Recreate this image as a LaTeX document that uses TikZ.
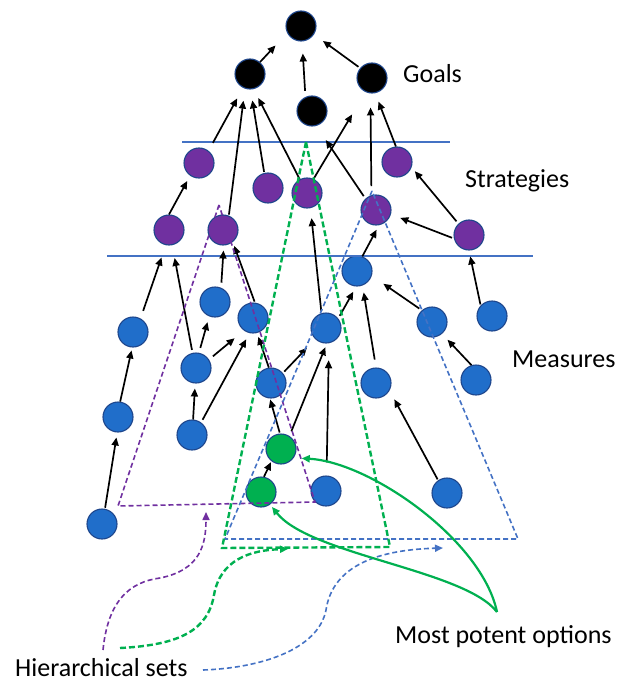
\documentclass[tikz,border=0pt]{standalone}
\usepackage{fontspec}
\setmainfont{Carlito}
\usetikzlibrary{arrows.meta}

\definecolor{nodeblue}{RGB}{32,110,202}
\definecolor{rimblue}{RGB}{30,70,140}
\definecolor{stratpurple}{RGB}{112,48,160}
\definecolor{optgreen}{RGB}{0,176,80}
\definecolor{lineblue}{RGB}{68,114,196}

\tikzset{
  dot/.style={circle, minimum size=30pt, inner sep=0pt, draw=rimblue, line width=1.1pt},
  goal/.style={dot, fill=black},
  strat/.style={dot, fill=stratpurple},
  meas/.style={dot, fill=nodeblue},
  opt/.style={dot, fill=optgreen},
  link/.style={line width=1.7pt, -{Triangle[length=8pt,width=7pt]}},
  lbl/.style={inner sep=0pt, anchor=base west, font=\fontsize{26}{30}\selectfont},
  tier/.style={lineblue, line width=1.6pt},
  purpleset/.style={stratpurple, line width=1.6pt, dash pattern=on 5pt off 3pt},
  greenset/.style={optgreen, line width=2.4pt, dash pattern=on 6pt off 3pt},
  blueset/.style={lineblue, line width=1.6pt, dash pattern=on 5pt off 3pt},
  settip/.style={-{Triangle[length=8pt,width=7pt]}},
  potent/.style={optgreen, line width=2.2pt, -{Triangle[length=8pt,width=7pt]}}
}

\begin{document}
\begin{tikzpicture}[x=1pt,y=-1pt]
\useasboundingbox (0,0) rectangle (619,682);

% goals
\node[goal] (t)  at (301,26) {};
\node[goal] (gl) at (250,74) {};
\node[goal] (gm) at (312,111) {};
\node[goal] (gr) at (372,78) {};

% strategies
\node[strat] (s1) at (199,163) {};
\node[strat] (s2) at (268,188) {};
\node[strat] (s3) at (307,193) {};
\node[strat] (s4) at (397,162) {};
\node[strat] (s5) at (376,210) {};
\node[strat] (s6) at (169,230) {};
\node[strat] (s7) at (223,230) {};
\node[strat] (s8) at (469,235) {};

% measures
\node[meas] (m1)  at (357,271) {};
\node[meas] (m2)  at (215,302) {};
\node[meas] (m3)  at (253,318) {};
\node[meas] (m4)  at (326,328) {};
\node[meas] (m5)  at (432,322) {};
\node[meas] (m6)  at (492,316) {};
\node[meas] (m7)  at (133,332) {};
\node[meas] (m8)  at (196,368) {};
\node[meas] (m9)  at (271,383) {};
\node[meas] (m10) at (376,383) {};
\node[meas] (m11) at (476,380) {};
\node[meas] (m12) at (118,417) {};
\node[meas] (m13) at (192,435) {};
\node[meas] (m14) at (326,491) {};
\node[meas] (m15) at (447,493) {};
\node[meas] (m16) at (102,524) {};

% most potent options
\node[opt] (g1) at (281,449) {};
\node[opt] (g2) at (261,492) {};

% level labels
\node[lbl] (goalslbl)  at (403,83)  {Goals};
\node[lbl] (stratlbl)  at (465,187) {Strategies};
\node[lbl] (measlbl)   at (512,367) {Measures};
\node[lbl] (hierlbl)   at (15,676)  {Hierarchical sets};
\node[lbl] (potentlbl) at (395,643) {Most potent options};

% tier separators
\draw[tier] (182,142) coordinate (tierAl) -- (450,142) coordinate (tierAr);
\draw[tier] (107,256) coordinate (tierBl) -- (533,256) coordinate (tierBr);

% contributions (source anchor / target anchor / start gap / end gap)
\foreach \a/\b/\s/\e in {
  gl.50/t.207/0/17, gm.115/t.274/6/12, gr.140/t.327/2/11,
  s1.52/gl.243/9/12, s7.68/gl.251/1/12, s2.104/gl.272/1/11,
  s3.118/gl.284/0/10, s3.65/gr.245/0/26, s5.107/gr.264/9/14,
  s4.94/gr.282/0/9, s5.133/gm.286/3/17, s6.90/s1.235/0/6,
  s8.133/s4.340/3/5, s8.193/s5.344/2/10, m1.70/s5.281/0/5,
  m7.61/s6.258/8/13, m8.103/s6.282/3/13, m2.67/s7.273/5/5,
  m3.83/s7.309/1/4, m4.107/s3.283/2/10, m8.79/m2.248/5/6,
  m8.33/m3.234/5/12, m13.54/m3.257/3/7, m9.98/m3.285/0/4,
  m9.40/m4.226/2/12, m4.38/m1.267/3/6, m10.90/m1.291/8/7,
  m5.131/m1.342/3/14, m11.107/m5.310/0/8, m6.137/s8.270/1/6,
  m12.82/m7.267/0/3, m13.86/m8.267/0/5, g1.94/m9.266/1/1,
  g1.57/m4.273/5/4, m14.88/m4.281/13/17, m15.125/m10.331/1/10,
  m16.79/m12.267/1/5, g2.79/g1.232/0/1}
  \draw[link, shorten <=\s pt, shorten >=\e pt] (\a) -- (\b);

% hierarchical sets
\coordinate (pa)  at (219,205);
\coordinate (pbl) at (118,506);
\coordinate (pbr) at (315,502);
\coordinate (ga)  at (306,142);
\coordinate (gbl) at (222,548);
\coordinate (gbr) at (390,547);
\coordinate (ba)  at (372,191);
\coordinate (bbl) at (225,539);
\coordinate (bbr) at (518,539);
\draw[purpleset] (pa) -- (pbl) -- (pbr) -- cycle;
\draw[blueset]   (ba) -- (bbl) -- (bbr) -- cycle;
\draw[greenset]  (ga) -- (gbl) -- (gbr) -- cycle;

% pointers from the "Hierarchical sets" label
\coordinate (hsp) at (103,650);
\coordinate (hsg) at (120,648);
\coordinate (hsb) at (203,670);
\coordinate (pin) at (206,512);
\coordinate (gin) at (288,549);
\coordinate (bin) at (443,548);
\draw[purpleset, settip] (hsp) .. controls (108,600) and (130,582) .. (160,578)
  .. controls (200,570) and (206,545) .. (pin);
\draw[greenset, settip] (hsg) .. controls (180,645) and (208,630) .. (214,595)
  .. controls (220,560) and (250,550) .. (gin);
\draw[blueset, settip] (hsb) .. controls (260,668) and (318,650) .. (326,610)
  .. controls (332,570) and (370,550) .. (bin);

% pointers from the "Most potent options" label
\coordinate (mpo) at (497,612);
\draw[potent, shorten >=8pt] (mpo) .. controls (482,540) and (370,462) .. (g1.-35);
\draw[potent, shorten >=3pt] (mpo) .. controls (465,570) and (310,555) .. (g2.-54);
\end{tikzpicture}
\end{document}
